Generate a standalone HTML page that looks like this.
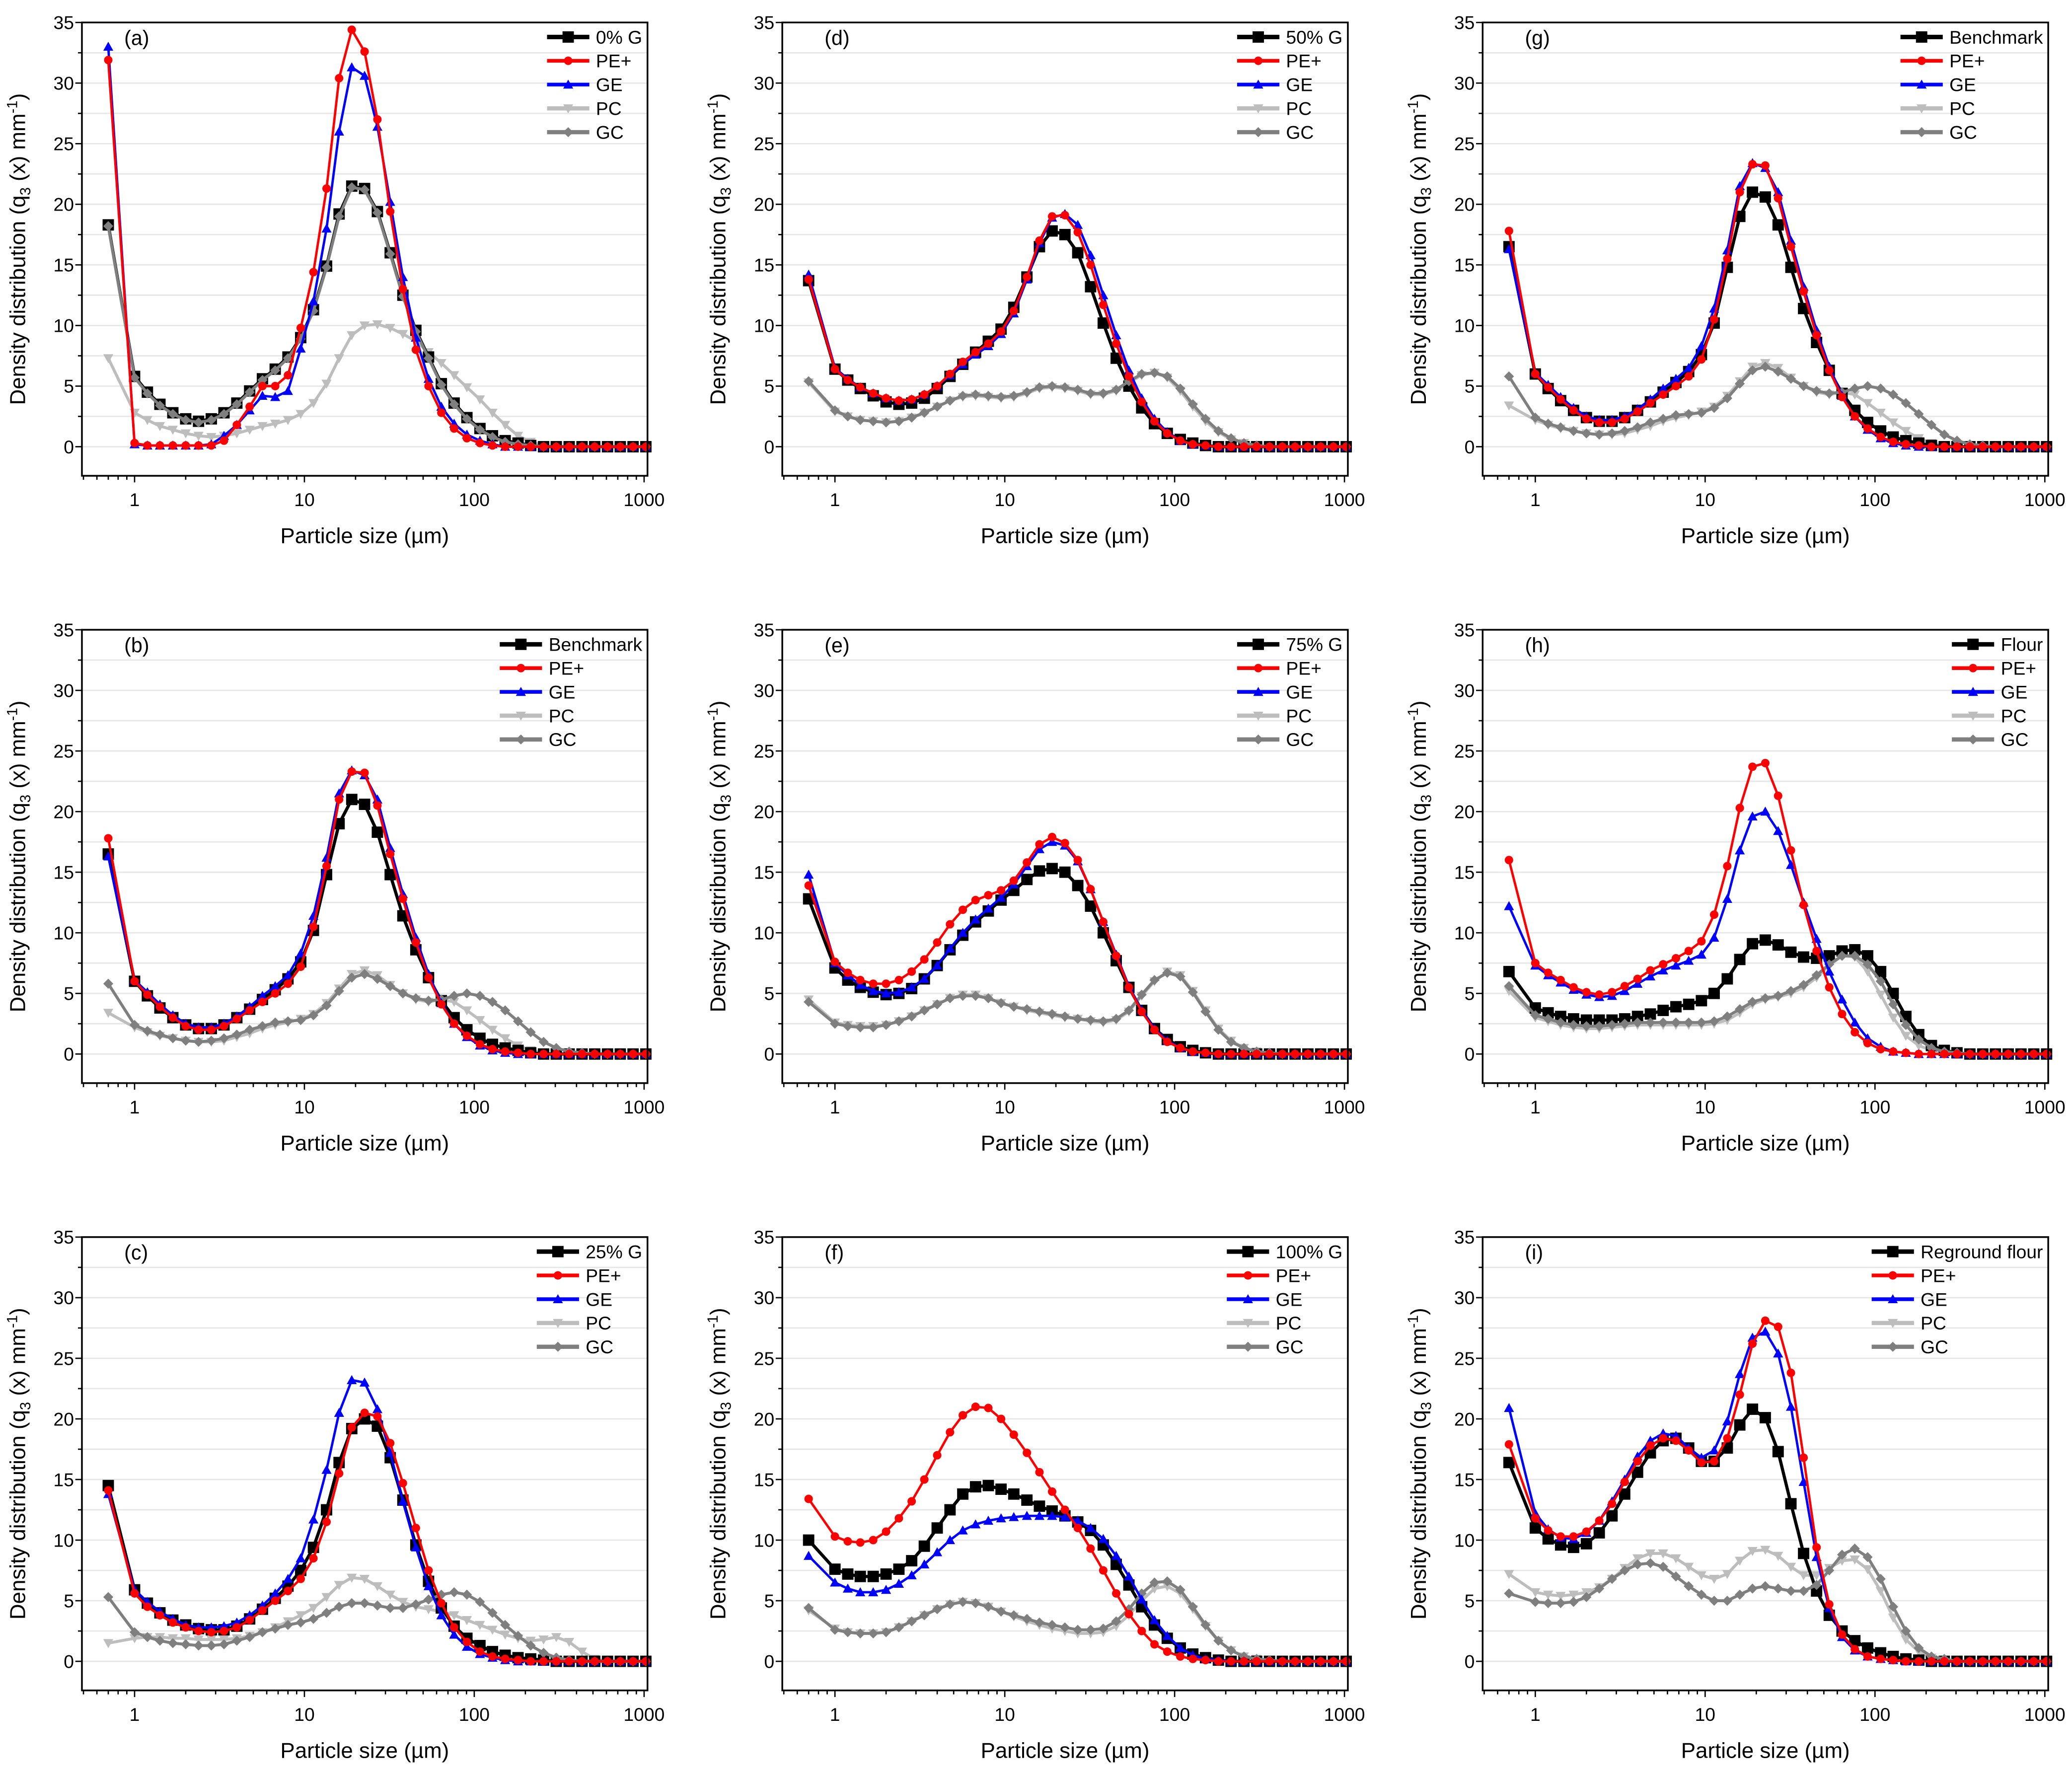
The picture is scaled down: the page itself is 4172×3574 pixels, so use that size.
<!DOCTYPE html>
<html><head><meta charset="utf-8"><style>
html,body{margin:0;padding:0;background:#fff;}
svg{display:block;}
text{font-family:"Liberation Sans",Arial,sans-serif;fill:#000;}
</style></head><body>
<svg id="fig" width="4172" height="3574" viewBox="0 0 1568 1343" preserveAspectRatio="none" xmlns="http://www.w3.org/2000/svg"></svg>
<script>
const sizes=[0.7,1,1.19,1.41,1.68,2,2.38,2.83,3.36,4,4.76,5.66,6.73,8,9.51,11.3,13.5,16,19,22.6,26.9,32,38,45.3,53.8,64,76.1,90.5,108,128,152,181,215,256,304,362,431,512,609,724,861,1024];
const yTicks=[0,5,10,15,20,25,30,35];
const xTicks=[1,10,100,1000];
const seriesNames=["main","PE+","GE","PC","GC"];
const panelIds=["a","b","c","d","e","f","g","h","i"];
const mainLabels=["0% G","Benchmark","25% G","50% G","75% G","100% G","Benchmark","Flour","Reground flour"];
const benchMain=[16.5,6,4.8,3.8,3,2.4,2.1,2.1,2.4,3,3.7,4.5,5.3,6.2,7.6,10.2,14.8,19,21,20.6,18.3,14.8,11.4,8.6,6.3,4.4,3,2,1.3,0.8,0.5,0.3,0.1];
const benchPE=[17.8,6,4.9,3.9,3,2.3,2,2,2.3,2.9,3.6,4.3,5,5.8,7.2,10.5,15.5,21,23.3,23.2,20.5,16.5,12.8,9.2,6.3,4.1,2.5,1.5,0.8,0.4,0.2,0.1];
const benchGE=[16.3,6.1,5.1,4.1,3.2,2.5,2.2,2.2,2.5,3.1,3.9,4.8,5.6,6.5,8.3,11.4,16.2,21.5,23.4,23,21,17,13.2,9.6,6.6,4.2,2.5,1.4,0.7,0.3,0.1];
const benchPC=[3.4,2.2,1.8,1.5,1.3,1.1,1,1,1.1,1.4,1.7,2.1,2.4,2.6,2.9,3.3,4.2,5.4,6.6,6.9,6.5,5.7,5,4.5,4.3,4.5,4.3,3.6,2.8,2,1.3,0.7,0.3,0.1];
const benchGC=[5.8,2.4,1.9,1.6,1.3,1.1,1,1.1,1.3,1.6,2,2.3,2.6,2.7,2.8,3.2,4,5.2,6.3,6.6,6.2,5.6,5,4.6,4.4,4.5,4.8,5,4.8,4.3,3.6,2.7,1.8,1,0.5,0.2,0.1];
const panelA=[
[18.3,5.8,4.5,3.5,2.8,2.3,2.1,2.3,2.8,3.6,4.6,5.6,6.4,7.4,9,11.3,14.9,19.2,21.5,21.3,19.4,16,12.5,9.6,7.4,5.2,3.6,2.4,1.5,0.9,0.5,0.3,0.1],
[31.9,0.3,0.1,0.1,0.1,0.1,0.1,0.1,0.5,1.8,3.3,5,5,5.9,9.8,14.4,21.3,30.4,34.4,32.6,27,19.4,13,8,5,2.8,1.5,0.7,0.3,0.1],
[33,0.2,0.1,0.1,0.1,0.1,0.1,0.2,0.9,1.8,3,4.2,4.1,4.6,8.1,12,18,26,31.3,30.6,26.4,20.2,14,9,5.6,3.3,1.9,1,0.5,0.2],
[7.3,2.8,2.2,1.7,1.4,1.1,0.9,0.8,0.9,1.1,1.4,1.7,1.9,2.2,2.7,3.6,5.2,7.3,9.2,10,10.1,9.8,9.3,8.7,7.8,6.9,5.9,4.9,3.9,2.8,1.8,0.9,0.4,0.1],
[18.2,5.7,4.4,3.4,2.7,2.2,2,2.2,2.7,3.5,4.5,5.5,6.3,7.3,8.9,11.2,14.8,19,21.4,21.2,19.3,15.9,12.4,9.5,7.3,5.1,3.5,2.3,1.4,0.8,0.4,0.2,0.1]];
const panelB=[benchMain,benchPE,benchGE,benchPC,benchGC];
const panelC=[
[14.5,5.9,4.8,4,3.4,3,2.7,2.6,2.6,2.9,3.5,4.3,5.2,6.2,7.5,9.4,12.5,16.4,19.2,20,19.4,16.8,13.3,9.6,6.6,4.4,2.9,1.9,1.3,0.8,0.5,0.3,0.2,0.1],
[14.1,5.6,4.5,3.8,3.2,2.8,2.5,2.4,2.5,2.8,3.4,4.2,5,5.8,6.8,8.5,11.5,15.5,19.3,20.5,20.2,18,14.7,11,7.5,4.8,2.8,1.6,0.8,0.4,0.2,0.1],
[13.8,5.9,4.9,4.1,3.5,3,2.8,2.8,2.9,3.2,3.8,4.6,5.6,6.8,8.5,11.7,15.8,20.5,23.2,23,20.8,17.2,13.2,9.4,6.2,3.8,2.2,1.2,0.6,0.3,0.1],
[1.5,1.9,2,2,1.9,1.9,1.8,1.8,1.8,1.9,2.1,2.4,2.8,3.3,3.8,4.4,5.3,6.3,6.9,6.8,6.2,5.5,4.9,4.5,4.3,4.1,3.8,3.4,3,2.6,2.2,1.9,1.7,1.8,2,1.6,0.8,0.2],
[5.3,2.4,2,1.7,1.5,1.4,1.3,1.3,1.4,1.7,2,2.4,2.7,3,3.2,3.5,4,4.5,4.8,4.8,4.6,4.4,4.4,4.7,5.1,5.5,5.7,5.5,4.9,4,3,2.1,1.3,0.7,0.3,0.1]];
const panelD=[
[13.7,6.4,5.5,4.8,4.2,3.7,3.5,3.6,4,4.8,5.8,6.8,7.8,8.7,9.7,11.5,14,16.5,17.8,17.5,16,13.2,10.2,7.3,5,3.2,1.9,1.1,0.6,0.3,0.1],
[13.8,6.4,5.5,4.9,4.4,4,3.8,3.9,4.3,5,6,7,7.8,8.5,9.5,11.2,14,17,19,19.1,17.7,15,11.7,8.5,5.8,3.7,2.1,1.1,0.5,0.2,0.1],
[14.2,6.5,5.6,4.9,4.4,4,3.8,3.9,4.3,5,5.9,6.8,7.6,8.3,9.3,11,13.8,16.8,18.9,19.2,18.3,15.8,12.5,9.2,6.3,4,2.3,1.2,0.5,0.2,0.1],
[5.3,2.9,2.5,2.2,2.1,2,2.1,2.4,2.8,3.3,3.8,4.1,4.2,4.1,4,4.1,4.4,4.8,4.9,4.8,4.6,4.3,4.3,4.6,5.3,5.9,6.1,5.7,4.6,3.3,2.1,1.2,0.6,0.3,0.1],
[5.4,3,2.5,2.2,2.1,2,2.1,2.4,2.8,3.3,3.8,4.2,4.3,4.2,4.1,4.2,4.5,4.9,5,4.9,4.7,4.4,4.4,4.7,5.4,6,6.1,5.8,4.8,3.5,2.3,1.3,0.7,0.3,0.1]];
const panelE=[
[12.8,7.1,6.1,5.5,5.1,4.9,5,5.4,6.2,7.3,8.6,9.8,10.9,11.8,12.7,13.5,14.4,15.1,15.3,15,13.9,12.2,10,7.7,5.5,3.6,2.1,1.2,0.6,0.3,0.1],
[13.9,7.6,6.7,6.1,5.8,5.8,6.1,6.8,7.8,9.2,10.7,11.9,12.7,13.1,13.5,14.3,15.8,17.3,17.9,17.4,16,13.6,10.9,8.1,5.5,3.5,2,1,0.5,0.2,0.1],
[14.8,7.5,6.5,5.7,5.2,5,5.1,5.5,6.2,7.3,8.7,10,11.1,12,12.9,14,15.5,16.9,17.5,17.2,15.9,13.6,10.9,8.2,5.6,3.6,2.1,1.1,0.5,0.2,0.1],
[4.5,2.6,2.4,2.3,2.3,2.4,2.7,3.1,3.6,4.1,4.6,4.9,4.9,4.6,4.2,3.9,3.6,3.4,3.2,3,2.9,2.7,2.6,2.8,3.5,4.8,6,6.8,6.5,5.2,3.6,2.1,1.1,0.5,0.2,0.1],
[4.3,2.5,2.3,2.2,2.2,2.4,2.7,3.1,3.6,4.1,4.6,4.8,4.8,4.6,4.2,3.9,3.7,3.5,3.3,3.1,2.9,2.8,2.7,2.9,3.6,4.9,6.1,6.7,6.4,5.1,3.5,2,1,0.5,0.2,0.1]];
const panelF=[
[10,7.6,7.2,7,7,7.2,7.6,8.3,9.5,11,12.5,13.8,14.4,14.5,14.2,13.8,13.3,12.8,12.4,12,11.5,10.8,9.6,8,6.3,4.5,3,1.9,1.1,0.6,0.3,0.1],
[13.4,10.3,9.9,9.8,10,10.7,11.8,13.2,15,17,18.9,20.3,21,20.9,20,18.7,17.2,15.6,14,12.5,11,9.3,7.5,5.6,3.9,2.5,1.4,0.8,0.4,0.2,0.1],
[8.7,6.5,6,5.7,5.7,5.9,6.4,7.1,8,9,10,10.8,11.3,11.6,11.8,11.9,12,12,12,11.9,11.6,11,10.1,8.7,7,5.1,3.4,2.1,1.1,0.5,0.2,0.1],
[4.2,2.7,2.4,2.3,2.3,2.4,2.8,3.3,3.8,4.3,4.7,4.9,4.8,4.5,4.1,3.7,3.3,3,2.7,2.5,2.3,2.3,2.4,2.9,3.8,5,6,6.2,5.6,4.3,2.9,1.7,0.9,0.4,0.2,0.1],
[4.4,2.6,2.4,2.3,2.3,2.4,2.8,3.3,3.8,4.3,4.7,4.9,4.8,4.5,4.1,3.8,3.5,3.2,3,2.8,2.6,2.6,2.7,3.3,4.3,5.6,6.5,6.6,5.9,4.5,3,1.7,0.9,0.4,0.2,0.1]];
const panelG=[benchMain,benchPE,benchGE,benchPC,benchGC];
const panelH=[
[6.8,3.8,3.4,3.1,2.9,2.8,2.8,2.8,2.9,3.1,3.3,3.6,3.9,4.1,4.4,5,6.2,7.8,9.1,9.4,9,8.4,8,7.9,8.1,8.5,8.6,8.1,6.8,5,3.1,1.6,0.7,0.3,0.1],
[16,7.5,6.7,6.1,5.5,5.1,4.9,5.1,5.6,6.2,6.9,7.4,7.9,8.5,9.3,11.5,15.5,20.3,23.7,24,21.3,16.8,12.3,8.5,5.5,3.3,1.8,0.9,0.4,0.2,0.1],
[12.2,7.3,6.5,5.9,5.3,4.9,4.7,4.8,5.2,5.8,6.4,6.9,7.3,7.7,8.2,9.6,12.8,16.8,19.6,20,18.4,15.6,12.5,9.5,6.8,4.5,2.6,1.3,0.6,0.2,0.1],
[5.2,3,2.7,2.4,2.2,2.1,2.1,2.2,2.3,2.4,2.4,2.4,2.4,2.4,2.4,2.5,2.8,3.4,4.1,4.5,4.7,5,5.5,6.3,7.3,8.1,8,6.8,4.9,3,1.5,0.7,0.3,0.1],
[5.6,3.2,2.9,2.6,2.4,2.3,2.3,2.4,2.5,2.6,2.6,2.6,2.6,2.6,2.6,2.7,3.1,3.7,4.3,4.6,4.8,5.2,5.7,6.5,7.4,8.1,8.1,7.4,6,4.1,2.4,1.2,0.5,0.2,0.1]];
const panelI=[
[16.4,11,10.1,9.6,9.4,9.7,10.6,12,13.8,15.6,17.2,18.2,18.4,17.6,16.5,16.5,17.6,19.5,20.8,20.1,17.3,13,8.9,5.8,3.8,2.5,1.7,1.1,0.7,0.4,0.2,0.1],
[17.9,11.8,10.8,10.3,10.3,10.7,11.6,13,14.8,16.5,17.8,18.4,18.2,17.4,16.4,16.5,18.4,22,26.2,28.1,27.6,23.8,16.8,9.4,4.7,2.2,1,0.4,0.2,0.1],
[20.9,12.2,10.9,10.2,10.1,10.6,11.6,13.2,15,16.9,18.2,18.8,18.6,17.6,16.8,17.4,19.8,23.7,26.7,27.2,25.4,21,14.8,8.6,4.4,2,0.9,0.4,0.2,0.1],
[7.2,5.7,5.5,5.4,5.5,5.7,6.1,6.8,7.7,8.5,8.9,8.9,8.5,7.8,7.1,6.8,7.2,8.3,9.1,9.2,8.7,7.8,7.1,7.1,7.7,8.3,8.4,7.6,5.8,3.6,1.8,0.8,0.3,0.1],
[5.6,4.9,4.8,4.8,4.9,5.3,6,6.8,7.5,8,8.1,7.8,7,6.2,5.5,5,5,5.5,6,6.2,6,5.8,5.8,6.3,7.5,8.8,9.3,8.6,6.8,4.5,2.5,1.1,0.4,0.2]];
const panelData=[panelA,panelB,panelC,panelD,panelE,panelF,panelG,panelH,panelI];

const NS="http://www.w3.org/2000/svg";
const svg=document.getElementById('fig');
function mk(tag,attrs,parent){const e=document.createElementNS(NS,tag);for(const k in attrs)e.setAttribute(k,attrs[k]);(parent||svg).appendChild(e);return e;}
const styles=[
 {color:"#000000",marker:"square",ms:4.3,lw:2.4},
 {color:"#ff0000",marker:"circle",ms:3.2,lw:1.8},
 {color:"#0000ff",marker:"tri-up",ms:3.8,lw:1.8},
 {color:"#bdbdbd",marker:"tri-down",ms:3.8,lw:2.2},
 {color:"#7f7f7f",marker:"diamond",ms:3.8,lw:2.2}];
const drawOrder=[3,0,4,2,1];
function marker(g,type,cx,cy,s,color){
 let e;
 if(type==="square")e=mk('rect',{x:cx-s,y:cy-s,width:2*s,height:2*s,fill:color},g);
 else if(type==="circle")e=mk('circle',{cx:cx,cy:cy,r:s,fill:color},g);
 else if(type==="tri-up")e=mk('polygon',{points:`${cx},${cy-s} ${cx-s},${cy+s*0.8} ${cx+s},${cy+s*0.8}`,fill:color},g);
 else if(type==="tri-down")e=mk('polygon',{points:`${cx},${cy+s} ${cx-s},${cy-s*0.8} ${cx+s},${cy-s*0.8}`,fill:color},g);
 else e=mk('polygon',{points:`${cx},${cy-s} ${cx+s},${cy} ${cx},${cy+s} ${cx-s},${cy}`,fill:color},g);
 return e;
}
const LX0=-0.31,LX1=3.02,Y0=-2.4,Y1=35;
panelIds.forEach((pid,pi)=>{
 const col=Math.floor(pi/3),row=pi%3;
 const L=62+530*col,R=L+428,T=17+459.5*row,B=T+343;
 const xs=v=>L+(Math.log10(v)-LX0)/(LX1-LX0)*(R-L);
 const ys=v=>B-(v-Y0)/(Y1-Y0)*(B-T);
 const g=mk('g',{});
 
 
 for(let v=0;v<=35;v+=2.5){const gl=mk('line',{x1:L,x2:R,y1:ys(v),y2:ys(v),stroke:"#e6e6e6","stroke-width":1},g);
  }
 const data=panelData[pi];
 const sg=mk('g',{},g);
 
 drawOrder.forEach(si=>{
  const st=styles[si];const vals=data[si].slice();while(vals.length<sizes.length)vals.push(0);
  const pts=vals.map((v,i)=>xs(sizes[i]).toFixed(2)+","+ys(v).toFixed(2)).join(" ");
  const pl=mk('polyline',{points:pts,fill:"none",stroke:st.color,"stroke-width":st.lw,"stroke-linejoin":"round"},sg);
  
  
  vals.forEach((v,i)=>{const m=marker(sg,st.marker,xs(sizes[i]),ys(v),st.ms,st.color);
   
   });
 });
 const fr=mk('rect',{x:L,y:T,width:R-L,height:B-T,fill:"none",stroke:"#000","stroke-width":1.3},g);
 
 for(let v=-2.5;v<=35;v+=2.5){if(v<Y0)continue;const major=(v%5===0);
  mk('line',{x1:L,x2:L-(major?5:3),y1:ys(v),y2:ys(v),stroke:"#000","stroke-width":1},g);}
 yTicks.forEach(v=>{const t=mk('text',{x:L-6,y:ys(v)+5,"text-anchor":"end","font-size":14},g);t.textContent=v;
  });
 for(let d=-1;d<=3;d++){for(let k=1;k<=9;k++){const v=k*Math.pow(10,d);const lv=Math.log10(v);if(lv<LX0||lv>LX1)continue;
  mk('line',{x1:xs(v),x2:xs(v),y1:B,y2:B+(k===1?5:3),stroke:"#000","stroke-width":1},g);}}
 xTicks.forEach(v=>{const t=mk('text',{x:xs(v),y:B+23,"text-anchor":"middle","font-size":14},g);t.textContent=v;
  });
 const xt=mk('text',{x:(L+R)/2,y:B+51,"text-anchor":"middle","font-size":16.5},g);xt.textContent="Particle size (µm)";
 
 const cy=(T+B)/2;
 const yt=mk('text',{x:L-43,y:cy,"text-anchor":"middle","font-size":16.5,transform:`rotate(-90 ${L-43} ${cy})`},g);
 
 yt.innerHTML='Density distribution (q<tspan font-size="11" dy="4">3</tspan><tspan dy="-4"> (x) mm</tspan><tspan font-size="11" dy="-6">-1</tspan><tspan dy="6">)</tspan>';
 const pl=mk('text',{x:L+32,y:T+17,"font-size":15.5},g);pl.textContent="("+pid+")";
 
 const labels=[mainLabels[pi],"PE+","GE","PC","GC"];
 const lg=mk('g',{},g);
 const probe=mk('text',{x:0,y:-100,"font-size":14},lg);
 let tw=0;labels.forEach(s=>{probe.textContent=s;tw=Math.max(tw,probe.getComputedTextLength());});
 lg.removeChild(probe);
 const textX=R-4-tw, lineX0=textX-37, lineX1=textX-5;
 labels.forEach((s,i)=>{const st=styles[i];const yy=T+11+18*i;
  const e=mk('g',{},lg);
  mk('line',{x1:lineX0,x2:lineX1,y1:yy,y2:yy,stroke:st.color,"stroke-width":st.lw+1},e);
  marker(e,st.marker,(lineX0+lineX1)/2,yy,st.ms,st.color);
  const t=mk('text',{x:textX,y:yy+5,"font-size":14},e);t.textContent=s;});
});
</script>
</body></html>
